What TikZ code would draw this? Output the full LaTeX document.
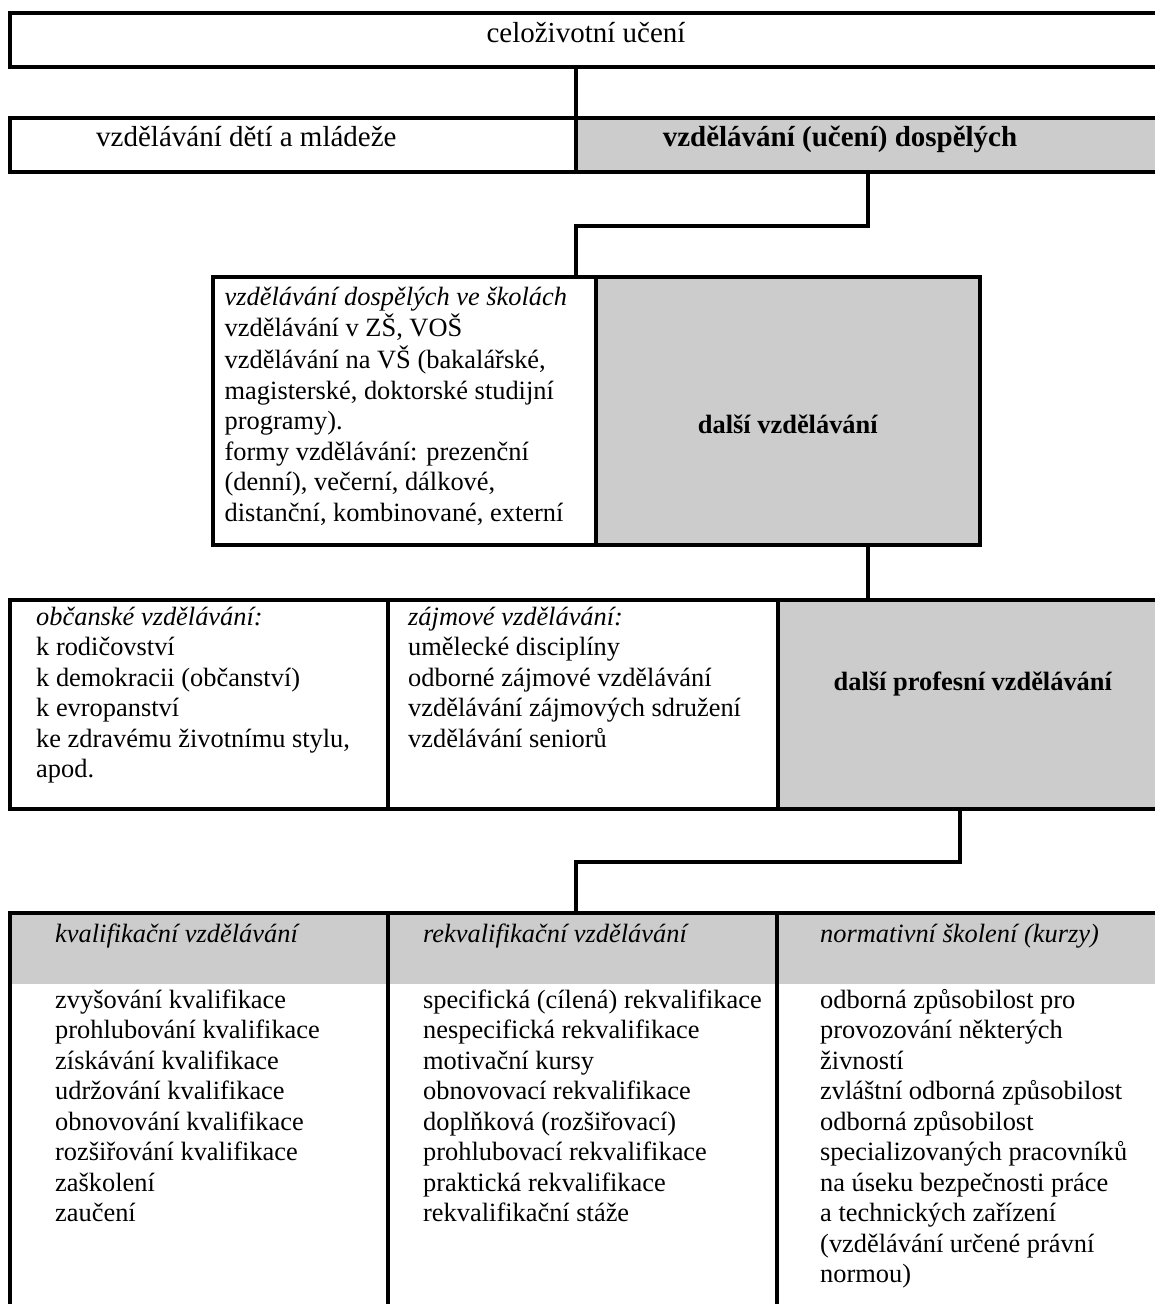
\documentclass[tikz,border=0pt]{standalone}
\usepackage{fontspec}
\setmainfont{Liberation Serif}
\definecolor{boxgray}{RGB}{204,204,204}

\tikzset{
  cell/.style={draw, line width=4pt, rectangle, anchor=north west, inner sep=0pt, outer sep=0pt},
  shaded/.style={cell, fill=boxgray},
  link/.style={line width=4.5pt},
  txt/.style={anchor=base west, inner sep=0pt, font=\fontsize{26.4}{30.5}\selectfont},
  big/.style={anchor=base, inner sep=0pt, font=\fontsize{29}{33}\selectfont},
}

\begin{document}
\begin{tikzpicture}[x=1pt, y=-1pt]
\useasboundingbox (0,0) rectangle (1155,1304);
\clip (0,0) rectangle (1155,1304);

% top two rows
\node[cell, minimum width=1160pt, minimum height=54pt] (lifelong) at (10,13) {};
\node[cell, minimum width=566pt, minimum height=54pt] (youth) at (10,118) {};
\node[shaded, minimum width=584pt, minimum height=54pt] (adult) at (576,118) {};
\node[big] (lifelongtxt) at (586,42) {celoživotní učení};
\node[big, anchor=base west] (youthtxt) at (96,146) {vzdělávání dětí a mládeže};
\node[big] (adulttxt) at (840,146) {\textbf{vzdělávání (učení) dospělých}};

% schools and further education
\node[cell, fill=white, minimum width=383pt, minimum height=268pt] (school) at (213,277) {};
\node[shaded, minimum width=384pt, minimum height=268pt] (further) at (596,277) {};
\node[txt] (schooltxt) at (224.5,305) {\begin{tabular}[t]{@{}l@{}}
  \textit{vzdělávání dospělých ve školách}\\
  vzdělávání v ZŠ, VOŠ\\
  vzdělávání na VŠ (bakalářské,\\
  magisterské, doktorské studijní\\
  programy).\\
  formy vzdělávání: prezenční\\
  (denní), večerní, dálkové,\\
  distanční, kombinované, externí
\end{tabular}};
\node[txt, anchor=base] (furthertxt) at (788,433) {\textbf{další vzdělávání}};

% civic, hobby, professional
\node[cell, minimum width=378pt, minimum height=209pt] (civic) at (10,600) {};
\node[cell, minimum width=390pt, minimum height=209pt] (hobby) at (388,600) {};
\node[shaded, minimum width=382pt, minimum height=209pt] (profesni) at (778,600) {};
\node[txt] (civictxt) at (36,625) {\begin{tabular}[t]{@{}l@{}}
  \textit{občanské vzdělávání:}\\
  k rodičovství\\
  k demokracii (občanství)\\
  k evropanství\\
  ke zdravému životnímu stylu,\\
  apod.
\end{tabular}};
\node[txt] (hobbytxt) at (408,625) {\begin{tabular}[t]{@{}l@{}}
  \textit{zájmové vzdělávání:}\\
  umělecké disciplíny\\
  odborné zájmové vzdělávání\\
  vzdělávání zájmových sdružení\\
  vzdělávání seniorů
\end{tabular}};
\node[txt, anchor=base] (profesnitxt) at (973,690) {\textbf{další profesní vzdělávání}};

% bottom row
\fill[boxgray] (10,913) rectangle (1160,984);
\node[cell, minimum width=378pt, minimum height=420pt] (qual) at (10,913) {};
\node[cell, minimum width=389pt, minimum height=420pt] (requal) at (388,913) {};
\node[cell, minimum width=383pt, minimum height=420pt] (norm) at (777,913) {};
\node[txt] (qualhead) at (55,942) {\textit{kvalifikační vzdělávání}};
\node[txt] (requalhead) at (423,942) {\textit{rekvalifikační vzdělávání}};
\node[txt] (normhead) at (820,942) {\textit{normativní školení (kurzy)}};
\node[txt] (qualtxt) at (55,1008) {\begin{tabular}[t]{@{}l@{}}
  zvyšování kvalifikace\\
  prohlubování kvalifikace\\
  získávání kvalifikace\\
  udržování kvalifikace\\
  obnovování kvalifikace\\
  rozšiřování kvalifikace\\
  zaškolení\\
  zaučení
\end{tabular}};
\node[txt] (requaltxt) at (423,1008) {\begin{tabular}[t]{@{}l@{}}
  specifická (cílená) rekvalifikace\\
  nespecifická rekvalifikace\\
  motivační kursy\\
  obnovovací rekvalifikace\\
  doplňková (rozšiřovací)\\
  prohlubovací rekvalifikace\\
  praktická rekvalifikace\\
  rekvalifikační stáže
\end{tabular}};
\node[txt] (normtxt) at (820,1008) {\begin{tabular}[t]{@{}l@{}}
  odborná způsobilost pro\\
  provozování některých\\
  živností\\
  zvláštní odborná způsobilost\\
  odborná způsobilost\\
  specializovaných pracovníků\\
  na úseku bezpečnosti práce\\
  a technických zařízení\\
  (vzdělávání určené právní\\
  normou)
\end{tabular}};

% connectors
\coordinate (e2) at (576,226);
\coordinate (d4) at (960,862);
\coordinate (e4) at (576,862);
\draw[link] (adult.north west |- lifelong.south) -- (adult.north west);
\draw[link] (adult.south) -- (adult.south |- e2) -- (e2) -- (e2 |- school.north);
\draw[link] (adult.south |- further.south) -- (adult.south |- civic.north);
\draw[link] (d4 |- profesni.south) -- (d4) -- (e4) -- (e4 |- qual.north);
\end{tikzpicture}
\end{document}
